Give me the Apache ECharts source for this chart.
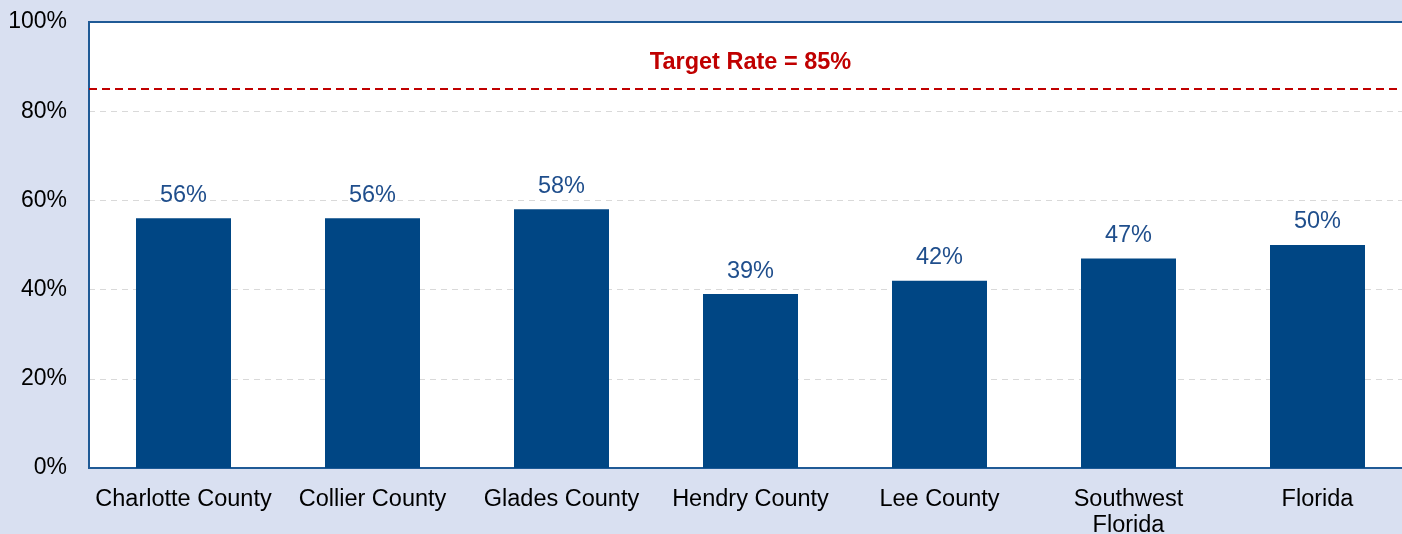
<!DOCTYPE html>
<html>
<head>
<meta charset="utf-8">
<script src="https://cdn.jsdelivr.net/npm/echarts@6/dist/echarts.min.js"></script>
<style>
  html, body { margin: 0; padding: 0; background: #d9e0f1; }
  #chart { width: 1402px; height: 534px; }
</style>
</head>
<body>
<div id="chart"></div>
<script>
var categories = ['Charlotte County', 'Collier County', 'Glades County', 'Hendry County', 'Lee County', 'Southwest\nFlorida', 'Florida'];
var rates = [56, 56, 58, 39, 42, 47, 50];
var targetRate = 85;
var targetLabel = 'Target Rate = 85%';

var font = "'Liberation Sans', Arial, sans-serif";
var chart = echarts.init(document.getElementById('chart'));
var option = {
  backgroundColor: '#d9e0f1',
  textStyle: { fontFamily: font },
  grid: {
    left: 89, right: -10, top: 22, bottom: 66,
    outerBoundsMode: 'none',
    containLabel: false,
    show: true,
    backgroundColor: '#ffffff',
    borderColor: '#1f5a96',
    borderWidth: 2
  },
  xAxis: {
    type: 'category',
    data: categories,
    axisLine: { lineStyle: { color: '#1f5a96', width: 2 } },
    axisTick: { show: false },
    axisLabel: { color: '#000000', fontSize: 23.5, fontFamily: font, margin: 19, lineHeight: 26, interval: 0 }
  },
  yAxis: {
    type: 'value',
    min: 0, max: 100, interval: 20,
    axisLine: { show: true, lineStyle: { color: '#1f5a96', width: 2 } },
    axisTick: { show: false },
    axisLabel: { color: '#000000', fontSize: 23, fontFamily: font, margin: 22, formatter: '{value}%' },
    splitLine: { showMaxLine: false, showMinLine: false, lineStyle: { color: '#d9d9d9', type: [6, 5], width: 1 } }
  },
  series: [{
    type: 'bar',
    data: rates,
    barWidth: 95,
    itemStyle: { color: '#004684' },
    label: {
      show: true, position: 'top', distance: 11,
      color: '#1f4e8c', fontSize: 23.5, fontFamily: font, formatter: '{c}%'
    },
    markLine: {
      silent: true,
      symbol: 'none',
      data: [{ yAxis: targetRate }],
      lineStyle: { color: '#c00000', type: [8, 5], width: 2 },
      label: {
        show: true, position: 'middle', distance: 14,
        formatter: targetLabel,
        color: '#c00000', fontSize: 23.5, fontWeight: 'bold', fontFamily: font
      }
    }
  }]
};
chart.setOption(option);
</script>
</body>
</html>
